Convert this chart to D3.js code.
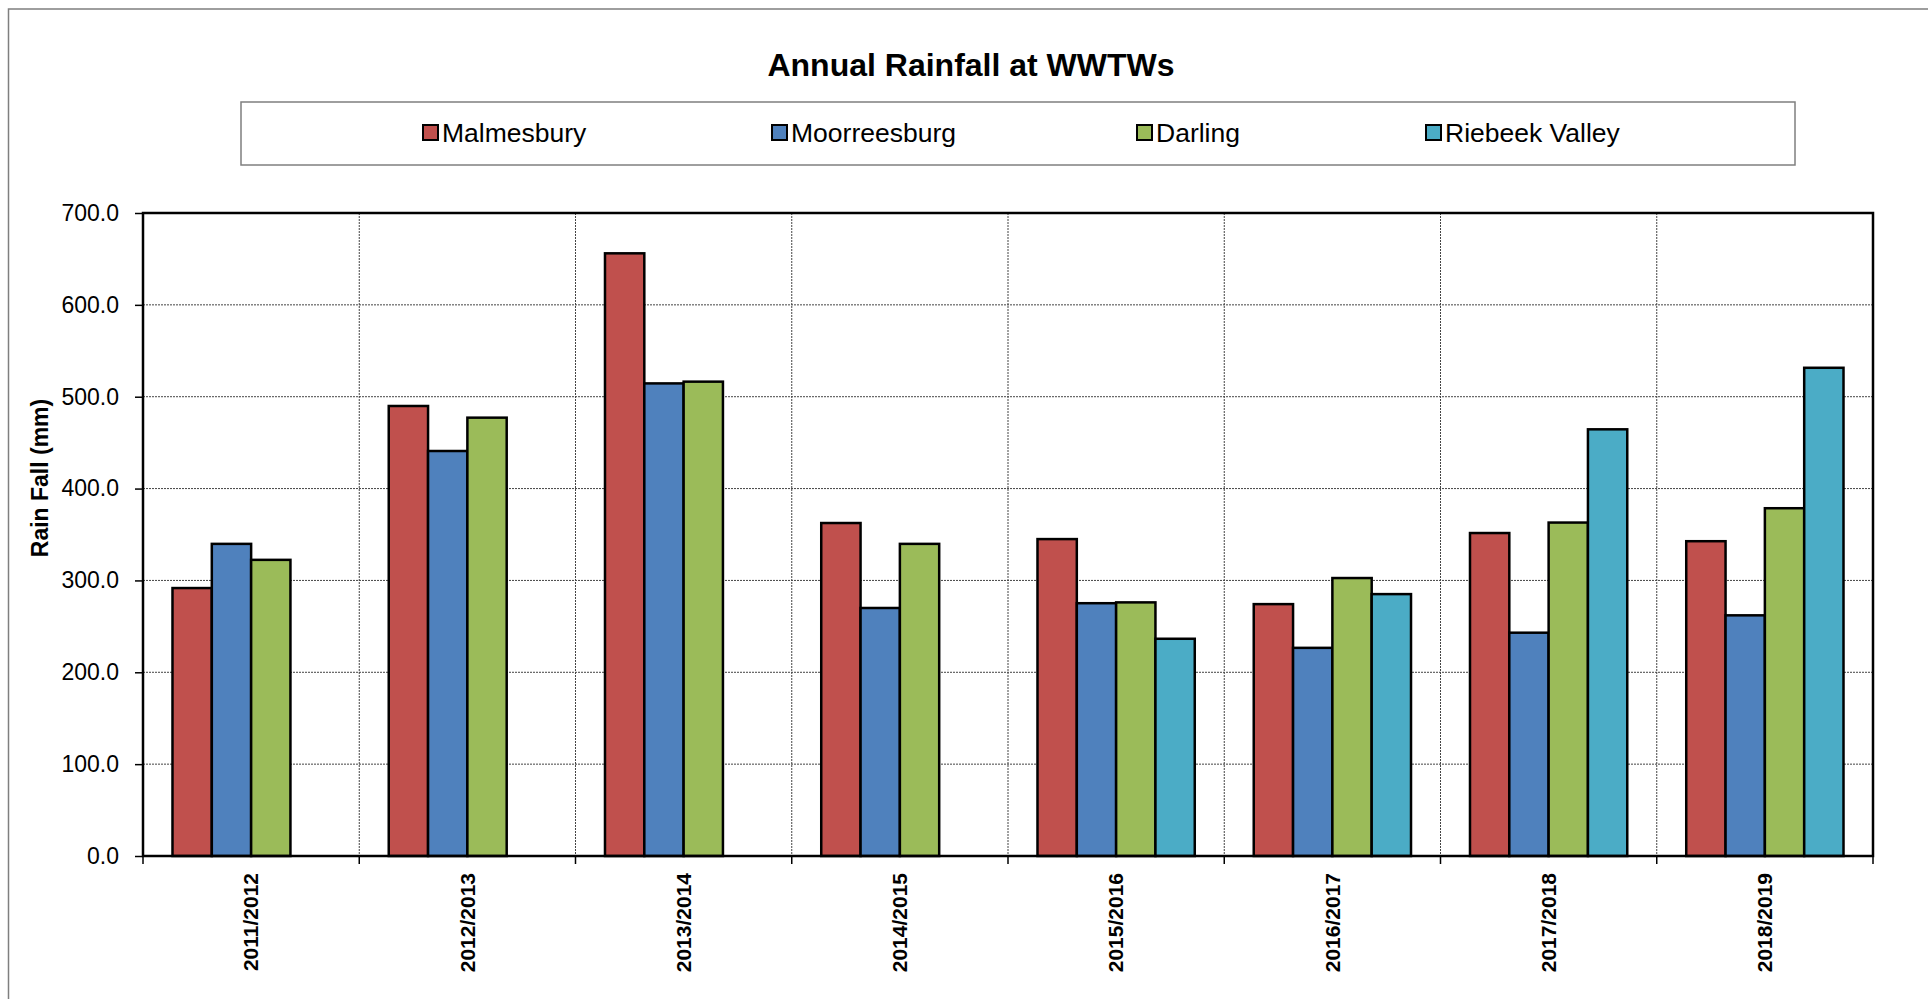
<!DOCTYPE html>
<html>
<head>
<meta charset="utf-8">
<script src="https://cdn.jsdelivr.net/npm/d3@7"></script>
<style>
  body { margin: 0; background: #fff; }
  text { font-family: "Liberation Sans", Arial, sans-serif; }
</style>
</head>
<body>
<svg id="chart"></svg>
<script>
// chart data
var years = ["2011/2012", "2012/2013", "2013/2014", "2014/2015",
             "2015/2016", "2016/2017", "2017/2018", "2018/2019"];
var seriesNames = ["Malmesbury", "Moorreesburg", "Darling", "Riebeek Valley"];
var malmesbury  = [291.7, 489.9, 656.1, 362.5, 345.0, 274.2, 351.6, 342.7];
var moorreesburg = [339.8, 440.9, 514.5, 270.0, 275.2, 226.6, 243.1, 262.0];
var darling     = [322.4, 477.2, 516.4, 339.8, 276.1, 302.6, 363.0, 378.6];
var riebeek     = [null, null, null, null, 236.5, 285.1, 464.5, 531.5];
var yTicks = [0, 100, 200, 300, 400, 500, 600, 700];
var colors = ["#C0504D", "#4F81BD", "#9BBB59", "#4BACC6"];

var seriesVals = [malmesbury, moorreesburg, darling, riebeek];

var width = 1928, height = 999;
var plot = {left: 143, right: 1873, top: 213, bottom: 856};

var svg = d3.select("#chart")
  .attr("width", width)
  .attr("height", height);

// outer chart border
svg.append("rect")
  .attr("x", 8.5).attr("y", 9)
  .attr("width", width + 20).attr("height", height + 20)
  .attr("fill", "#fff")
  .attr("stroke", "#7f7f7f")
  .attr("stroke-width", 1.5);

// title
svg.append("text")
  .attr("x", 971).attr("y", 76)
  .attr("text-anchor", "middle")
  .attr("font-size", 32)
  .attr("font-weight", "bold")
  .text("Annual Rainfall at WWTWs");

// legend
svg.append("rect")
  .attr("x", 241).attr("y", 102)
  .attr("width", 1554).attr("height", 63)
  .attr("fill", "#fff")
  .attr("stroke", "#7f7f7f")
  .attr("stroke-width", 1.5);

var legendX = [423, 772, 1137, 1426];
var legend = svg.append("g").selectAll("g")
    .data(seriesNames)
  .enter().append("g")
    .attr("transform", function(d, i) { return "translate(" + legendX[i] + ",133)"; });

legend.append("rect")
  .attr("x", 0).attr("y", -8)
  .attr("width", 15).attr("height", 15)
  .attr("fill", function(d, i) { return colors[i]; })
  .attr("stroke", "#000")
  .attr("stroke-width", 2);

legend.append("text")
  .attr("x", 19).attr("y", 0)
  .attr("dy", "0.35em")
  .attr("font-size", 26.5)
  .text(function(d) { return d; });

// scales
var x = d3.scaleBand().domain(years).range([plot.left, plot.right]).padding(0),
    xs = d3.scaleBand().domain(seriesNames).range([0, x.bandwidth()])
      .paddingInner(0).paddingOuter(0.75),
    y = d3.scaleLinear().domain([0, 700]).range([plot.bottom, plot.top]);

// horizontal gridlines
svg.append("g")
  .selectAll("line")
    .data(yTicks.slice(1))
  .enter().append("line")
    .attr("x1", plot.left).attr("x2", plot.right)
    .attr("y1", function(d) { return y(d); })
    .attr("y2", function(d) { return y(d); })
    .attr("stroke", "#444")
    .attr("stroke-width", 1)
    .attr("stroke-dasharray", "2,1");

// vertical gridlines at category boundaries
svg.append("g")
  .selectAll("line")
    .data(years.slice(1))
  .enter().append("line")
    .attr("x1", function(d) { return x(d); })
    .attr("x2", function(d) { return x(d); })
    .attr("y1", plot.top).attr("y2", plot.bottom)
    .attr("stroke", "#444")
    .attr("stroke-width", 1)
    .attr("stroke-dasharray", "2,1");

// bars
var barData = [];
years.forEach(function(yr, i) {
  seriesNames.forEach(function(s, j) {
    if (seriesVals[j][i] != null) barData.push({yr: yr, s: s, j: j, val: seriesVals[j][i]});
  });
});

svg.append("g").selectAll(".bar")
    .data(barData)
  .enter().append("rect")
    .attr("class", "bar")
    .attr("x", function(d) { return x(d.yr) + xs(d.s); })
    .attr("y", function(d) { return y(d.val); })
    .attr("width", xs.bandwidth())
    .attr("height", function(d) { return y(0) - y(d.val); })
    .attr("fill", function(d) { return colors[d.j]; })
    .attr("stroke", "#000")
    .attr("stroke-width", 2.5);

// plot frame
svg.append("rect")
  .attr("x", plot.left).attr("y", plot.top)
  .attr("width", plot.right - plot.left)
  .attr("height", plot.bottom - plot.top)
  .attr("fill", "none")
  .attr("stroke", "#000")
  .attr("stroke-width", 2.5);

// y axis
var yAxis = svg.append("g")
  .attr("transform", "translate(" + plot.left + ",0)")
  .call(d3.axisLeft(y).tickValues(yTicks).tickSize(8).tickPadding(16)
    .tickFormat(d3.format(".1f")));
yAxis.select(".domain").remove();
yAxis.selectAll(".tick line").attr("stroke", "#000").attr("stroke-width", 1.5);
yAxis.selectAll(".tick text")
  .attr("font-size", 23)
  .attr("font-family", "'Liberation Sans', Arial, sans-serif")
  .attr("fill", "#000");

// x axis: ticks at category boundaries
svg.append("g")
  .selectAll("line")
    .data(years.concat(["end"]))
  .enter().append("line")
    .attr("x1", function(d, i) { return plot.left + i * x.step(); })
    .attr("x2", function(d, i) { return plot.left + i * x.step(); })
    .attr("y1", plot.bottom).attr("y2", plot.bottom + 8)
    .attr("stroke", "#000")
    .attr("stroke-width", 1.5);

svg.append("g")
  .selectAll("text")
    .data(years)
  .enter().append("text")
    .attr("transform", function(d) {
      return "translate(" + (x(d) + x.bandwidth() / 2) + "," + (plot.bottom + 17) + ") rotate(-90)";
    })
    .attr("text-anchor", "end")
    .attr("dy", "0.35em")
    .attr("font-size", 21)
    .attr("font-weight", "bold")
    .text(function(d) { return d; });

// y axis label
svg.append("text")
  .attr("transform", "translate(40,478) rotate(-90)")
  .attr("text-anchor", "middle")
  .attr("dy", "0.35em")
  .attr("font-size", 23)
  .attr("font-weight", "bold")
  .text("Rain Fall (mm)");
</script>
</body>
</html>
